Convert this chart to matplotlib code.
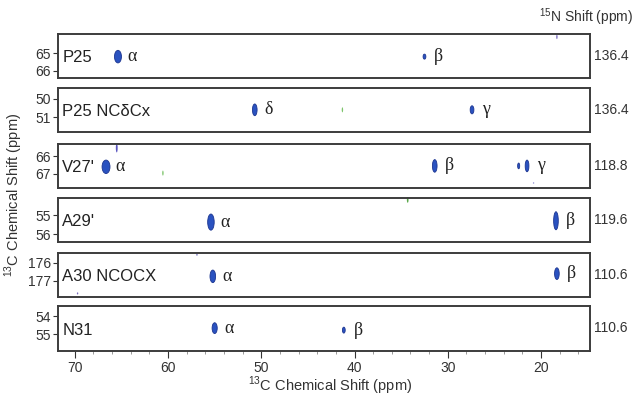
import matplotlib.pyplot as plt
from matplotlib.patches import Ellipse
from matplotlib.ticker import MultipleLocator

plt.rcParams['font.family'] = ['Liberation Sans', 'DejaVu Sans']
plt.rcParams['mathtext.fontset'] = 'custom'
plt.rcParams['mathtext.rm'] = 'Liberation Sans'

# Strip data (top to bottom)
residues = ['P25', 'P25 NCδCx', "V27'", "A29'", 'A30 NCOCX', 'N31']
n15_shift = ['136.4', '136.4', '118.8', '119.6', '110.6', '110.6']
y_ticks = [[65, 66], [50, 51], [66, 67], [55, 56], [176, 177], [54, 55]]
y_lims = [(66.39, 63.94), (51.83, 49.39), (67.78, 65.33),
          (56.42, 54.10), (177.90, 175.45), (55.94, 53.44)]

# Labelled cross peaks per strip: 13C shift (x), 13C shift (y), width, height (ppm), label
peak_x = [[65.37, 32.5], [50.7, 27.4], [66.65, 31.4, 22.4, 21.5],
          [55.4, 18.4], [55.2, 18.3], [55.0, 41.15]]
peak_y = [[65.2, 65.2], [50.6, 50.6], [66.6, 66.55, 66.55, 66.55],
          [55.37, 55.3], [176.75, 176.6], [54.67, 54.78]]
peak_w = [[0.75, 0.3], [0.5, 0.4], [0.85, 0.5, 0.22, 0.4],
          [0.7, 0.5], [0.6, 0.5], [0.55, 0.3]]
peak_h = [[0.7, 0.28], [0.65, 0.45], [0.75, 0.7, 0.32, 0.65],
          [0.85, 0.95], [0.7, 0.65], [0.6, 0.33]]
peak_lab = [['α', 'β'], ['δ', 'γ'], ['α', 'β', '', 'γ'],
            ['α', 'β'], ['α', 'β'], ['α', 'β']]

# Weak off-strip signals (strip index, x, y, width, height, colour)
weak_strip = [0, 1, 2, 2, 2, 3, 4, 4]
weak_x = [18.3, 41.3, 65.5, 60.55, 20.8, 34.3, 56.9, 69.7]
weak_y = [64.1, 50.6, 65.55, 66.95, 67.5, 54.2, 175.55, 177.7]
weak_w = [0.15, 0.15, 0.2, 0.15, 0.15, 0.18, 0.15, 0.15]
weak_h = [0.25, 0.28, 0.5, 0.28, 0.08, 0.3, 0.1, 0.12]
weak_c = ['#7a6cc0', '#7cc46a', '#5a55c0', '#7cc46a', '#8a8ad0', '#5aa84a', '#6a66b8', '#7a6cc0']

blue = '#2a52c0'
edge = '#1c3590'
frame = '#3c3c3c'

fig = plt.figure(figsize=(6.35, 3.96), dpi=100)
W, H = 635, 396
left, right = 58, 590
tops = [34, 88, 144, 198, 253, 306]
bots = [78, 132, 188, 242, 297, 351]

axes = []
for i in range(6):
    ax = fig.add_axes([left / W, 1 - bots[i] / H, (right - left) / W, (bots[i] - tops[i]) / H])
    ax.set_xlim(71.8, 14.75)
    ax.set_ylim(*y_lims[i])
    ax.set_yticks(y_ticks[i])
    ax.tick_params(axis='y', direction='out', length=3.5, width=0.8, pad=1.5,
                   labelsize=10, colors='#333333')
    for s in ax.spines.values():
        s.set_color(frame)
        s.set_linewidth(1.4)
    for x, y, w, h, lab in zip(peak_x[i], peak_y[i], peak_w[i], peak_h[i], peak_lab[i]):
        ax.add_patch(Ellipse((x, y), w, h, facecolor=blue, edgecolor=edge, lw=0.6))
        if lab:
            ax.annotate(lab, (x, y), xytext=(7, 0), textcoords='offset points',
                        ha='left', va='center', fontsize=13, family='Liberation Serif',
                        color='#222222')
    for k in range(len(weak_strip)):
        if weak_strip[k] == i:
            ax.add_patch(Ellipse((weak_x[k], weak_y[k]), weak_w[k], weak_h[k],
                                 facecolor=weak_c[k], edgecolor='none', clip_on=False))
    ax.text(0.008, 0.46, residues[i], transform=ax.transAxes, ha='left', va='center',
            fontsize=12, color='#222222')
    ax.text(1.007, 0.5, n15_shift[i], transform=ax.transAxes, ha='left', va='center',
            fontsize=10, color='#333333')
    if i < 5:
        ax.set_xticks([])
    axes.append(ax)

bottom = axes[-1]
bottom.set_xticks([70, 60, 50, 40, 30, 20])
bottom.xaxis.set_minor_locator(MultipleLocator(2))
bottom.tick_params(axis='x', which='major', direction='out', length=5, width=0.8,
                   labelsize=10, colors='#333333', pad=2)
bottom.tick_params(axis='x', which='minor', direction='out', length=2.5, width=0.6,
                   colors='#888888')

fig.text(330 / W, 1 - 386 / H, r'$^{13}$C Chemical Shift (ppm)', ha='center', va='center',
         fontsize=10.5, color='#333333')
fig.text(14 / W, 1 - 195 / H, r'$^{13}$C Chemical Shift (ppm)', ha='center', va='center',
         rotation=90, fontsize=10.5, color='#333333')
fig.text(633 / W, 1 - 17 / H, r'$^{15}$N Shift (ppm)', ha='right', va='center',
         fontsize=10, color='#333333')

fig.savefig('out.png', dpi=100)
